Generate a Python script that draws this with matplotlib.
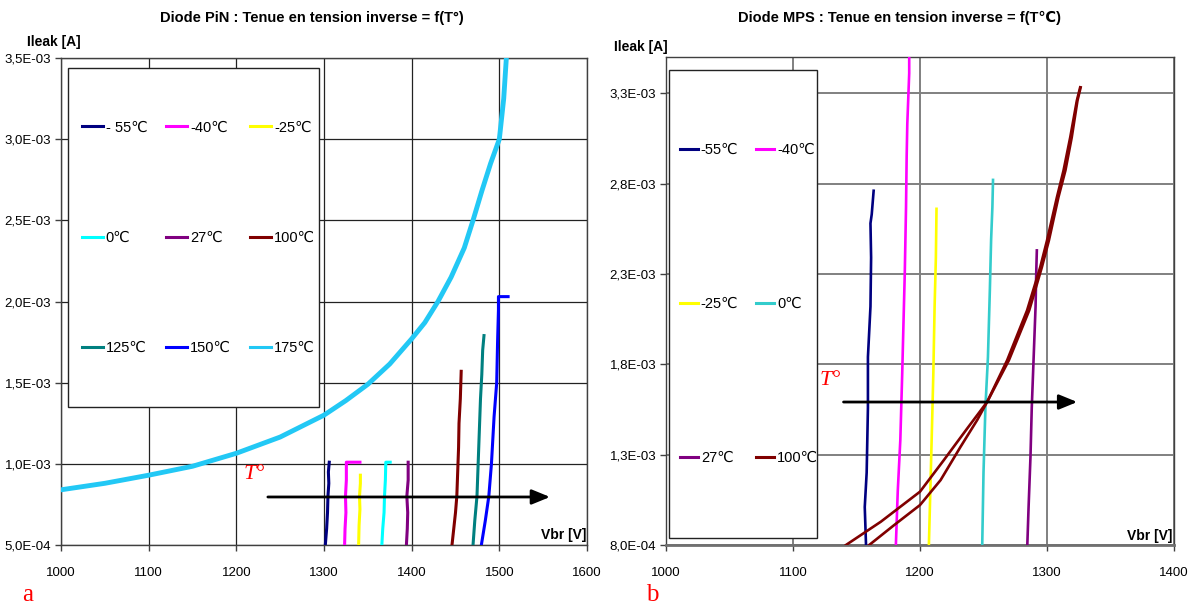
import numpy as np
import matplotlib
matplotlib.use("Agg")
import matplotlib.pyplot as plt
from matplotlib.patches import Rectangle
from matplotlib.ticker import FixedLocator, FuncFormatter

plt.rcParams['font.family'] = ['Liberation Sans Narrow', 'Liberation Sans', 'DejaVu Sans']

# --------------------------------
# data (Ileak in 1E-03 A, Vbr in V)
# --------------------------------

# (a) diode PiN
pin_labels = ['- 55℃', '-40℃', '-25℃', '0℃', '27℃', '100℃', '125℃', '150℃', '175℃']
pin_colors = ['#000080', '#FF00FF', '#FFFF00', '#00FFFF', '#800080',
              '#800000', '#008080', '#0000FF', '#22C8F5']
pin_vbr = [
    [1301.5, 1303, 1304, 1304.5, 1305.5, 1305, 1306],                                  # -55
    [1323.5, 1324, 1325, 1324.5, 1325.5, 1325.5, 1341],                                # -40
    [1339.5, 1340, 1341, 1340.5, 1341.5, 1341.5],                                      # -25
    [1366, 1367, 1368.5, 1369, 1370, 1370.5, 1375.5],                                  # 0
    [1394, 1395, 1395.5, 1394.5, 1396, 1396],                                          # 27
    [1446, 1448, 1450, 1451.5, 1452.5, 1453.5, 1454, 1455.5, 1456.5],                  # 100
    [1470, 1472, 1474.5, 1475.5, 1476.5, 1477.5, 1478.5, 1480, 1481, 1482.5],          # 125
    [1479.5, 1484, 1488, 1491, 1494, 1497, 1498, 1499, 1499, 1510],                    # 150
    [1000, 1050, 1100, 1150, 1200, 1250, 1300, 1325, 1350, 1375, 1400, 1415, 1430,
     1445, 1460, 1470, 1480, 1490, 1500, 1505, 1508],                                  # 175
]
pin_ileak = [
    [0.5, 0.6, 0.7, 0.8, 0.88, 0.95, 1.01],
    [0.5, 0.6, 0.7, 0.8, 0.9, 1.01, 1.01],
    [0.5, 0.62, 0.72, 0.8, 0.88, 0.93],
    [0.5, 0.6, 0.7, 0.8, 0.9, 1.01, 1.01],
    [0.5, 0.6, 0.7, 0.8, 0.9, 1.01],
    [0.5, 0.6, 0.7, 0.8, 0.95, 1.1, 1.25, 1.4, 1.57],
    [0.5, 0.65, 0.8, 0.95, 1.1, 1.25, 1.4, 1.55, 1.7, 1.79],
    [0.5, 0.65, 0.8, 1.0, 1.29, 1.5, 1.75, 1.95, 2.03, 2.03],
    [0.84, 0.88, 0.93, 0.985, 1.065, 1.165, 1.30, 1.39, 1.49, 1.615, 1.77, 1.87, 2.0,
     2.15, 2.33, 2.5, 2.68, 2.85, 3.0, 3.25, 3.5],
]
pin_xticks = [1000, 1100, 1200, 1300, 1400, 1500, 1600]
pin_yticks = [0.5, 1.0, 1.5, 2.0, 2.5, 3.0, 3.5]

# (b) diode MPS
mps_labels = ['-55℃', '-40℃', '-25℃', '0℃', '27℃', '100℃']
mps_colors = ['#000080', '#FF00FF', '#FFFF00', '#33CCCC', '#800080', '#800000']
mps_vbr = [
    [1157.5, 1156.5, 1158, 1159, 1159, 1161, 1161.5, 1161, 1162, 1163.5],
    [1181, 1182.5, 1184.5, 1186, 1187, 1188, 1189, 1189.5, 1190, 1191.5, 1191.5],
    [1207, 1208.5, 1209.5, 1210.5, 1211.5, 1212.5, 1213],
    [1249, 1250, 1251.5, 1253.5, 1255, 1256, 1257, 1257.5],
    [1284.5, 1285.5, 1287, 1288, 1289.5, 1291, 1291.5, 1292],
    [1141.7, 1169.2, 1200, 1218.8, 1237.2, 1252.9, 1268.6, 1284.3, 1294.7, 1300, 1307.8, 1313, 1318.3, 1323.5, 1326.1],
]
mps_ileak = [
    [0.8, 1.01, 1.2, 1.56, 1.84, 2.12, 2.39, 2.58, 2.63, 2.76],
    [0.8, 1.1, 1.38, 1.75, 2.03, 2.3, 2.67, 2.95, 3.13, 3.41, 3.55],
    [0.8, 1.2, 1.47, 1.75, 2.12, 2.39, 2.66],
    [0.8, 1.2, 1.56, 1.84, 2.21, 2.49, 2.67, 2.82],
    [0.8, 1.01, 1.29, 1.56, 1.84, 2.12, 2.3, 2.43],
    [0.8, 0.929, 1.095, 1.27, 1.445, 1.592, 1.822, 2.098, 2.338, 2.485, 2.724, 2.872, 3.056, 3.259, 3.332],
]
# second trace of the 100℃ MPS measurement
mps_vbr_100b = [1160, 1179.6, 1200, 1216.2, 1231.9, 1245, 1252.9, 1270, 1286, 1296, 1301.5, 1309, 1314.5, 1319.5, 1324, 1326.5]
mps_ileak_100b = [0.8, 0.91, 1.021, 1.159, 1.343, 1.491, 1.592, 1.822, 2.098, 2.338, 2.485, 2.724, 2.872, 3.056, 3.259, 3.332]
mps_xticks = [1000, 1100, 1200, 1300, 1400]
mps_yticks = [0.8, 1.3, 1.8, 2.3, 2.8, 3.3]


def sci_comma(v, pos):
    return f"{v:.1E}".replace('.', ',')


def style_axes(ax, xticks, yticks, xlim, ylim, gcolor, glw):
    ax.set_xlim(*xlim)
    ax.set_ylim(*ylim)
    ax.xaxis.set_major_locator(FixedLocator(xticks))
    ax.yaxis.set_major_locator(FixedLocator([t * 1e-3 for t in yticks]))
    ax.yaxis.set_major_formatter(FuncFormatter(sci_comma))
    ax.grid(True, color=gcolor, lw=glw, zorder=0)
    ax.set_axisbelow(True)
    ax.tick_params(axis='both', direction='out', length=4, width=1,
                   color='#404040', labelsize=9.5)
    ax.tick_params(axis='x', pad=12)
    ax.tick_params(axis='y', pad=3)
    for s in ax.spines.values():
        s.set_color('#404040')
        s.set_linewidth(1)


def box_legend(ax, handles, labels, ncol, box, shift, hlen, spacing, colspace):
    # white framed box, legend entries inside it (shifted a little to the right)
    ax.add_patch(Rectangle(box[:2], box[2], box[3], transform=ax.transAxes,
                           facecolor='white', edgecolor='#222222', lw=1, zorder=2))
    anchor = (box[0] + shift, box[1], box[2], box[3])
    leg = ax.legend(handles, labels, ncol=ncol, loc='center', bbox_to_anchor=anchor,
                    borderaxespad=0, borderpad=0.5, fontsize=10.5,
                    handlelength=hlen, handletextpad=0.2, columnspacing=colspace,
                    labelspacing=spacing, frameon=False)
    for h in leg.get_lines():
        h.set_linewidth(2.2)
    return leg


W, H = 1189, 605
fig = plt.figure(figsize=(W / 100, H / 100), dpi=100)

# ---------------- (a) PiN ----------------
ax1 = fig.add_axes([61 / W, 60 / H, 526 / W, 487 / H])
style_axes(ax1, pin_xticks, pin_yticks, (1000, 1600), (0.5e-3, 3.5e-3), '#222222', 0.9)
lines1 = []
for v, i, c, lab in zip(pin_vbr, pin_ileak, pin_colors, pin_labels):
    lw = 3.5 if lab == '175℃' else 2.2
    ln, = ax1.plot(v, np.array(i) * 1e-3, color=c, lw=lw, label=lab, zorder=3)
    lines1.append(ln)
order1 = [0, 3, 6, 1, 4, 7, 2, 5, 8]
box_legend(ax1, [lines1[k] for k in order1], [pin_labels[k] for k in order1], 3,
           (0.0139, 0.283, 0.4766, 0.696), 0.009, 1.45, 6.6, 1.3)

ax1.annotate('', xy=(0.935, 0.0986), xytext=(0.388, 0.0986), xycoords='axes fraction',
             arrowprops=dict(arrowstyle='-|>,head_length=1.1,head_width=0.45', color='black', lw=2))
ax1.text(0.367, 0.144, 'T°', transform=ax1.transAxes, color='red', fontsize=16,
         family='Liberation Serif', style='italic', ha='center', va='center')
ax1.text(0.998, 0.0205, 'Vbr [V]', transform=ax1.transAxes, ha='right', va='center',
         fontsize=10, fontweight='bold')
ax1.text(-0.014, 1.032, 'Ileak [A]', transform=ax1.transAxes, ha='center', va='center',
         fontsize=10, fontweight='bold')

# ---------------- (b) MPS ----------------
ax2 = fig.add_axes([666 / W, 60 / H, 508 / W, 488 / H])
style_axes(ax2, mps_xticks, mps_yticks, (1000, 1400), (0.8e-3, 3.5e-3), '#808080', 1.4)
ax2.spines['bottom'].set_linewidth(2)
ax2.spines['bottom'].set_color('#707070')
lines2 = []
for v, i, c, lab in zip(mps_vbr, mps_ileak, mps_colors, mps_labels):
    ln, = ax2.plot(v, np.array(i) * 1e-3, color=c, lw=1.9, label=lab, zorder=3)
    lines2.append(ln)
ax2.plot(mps_vbr_100b, np.array(mps_ileak_100b) * 1e-3, color=mps_colors[5], lw=1.9, zorder=3)
order2 = [0, 2, 4, 1, 3, 5]
box_legend(ax2, [lines2[k] for k in order2], [mps_labels[k] for k in order2], 2,
           (0.0065, 0.0143, 0.291, 0.959), 0.011, 1.25, 9.6, 1.2)

ax2.annotate('', xy=(0.815, 0.293), xytext=(0.344, 0.293), xycoords='axes fraction',
             arrowprops=dict(arrowstyle='-|>,head_length=1.1,head_width=0.45', color='black', lw=2))
ax2.text(0.323, 0.338, 'T°', transform=ax2.transAxes, color='red', fontsize=16,
         family='Liberation Serif', style='italic', ha='center', va='center')
ax2.text(0.996, 0.018, 'Vbr [V]', transform=ax2.transAxes, ha='right', va='center',
         fontsize=10, fontweight='bold')
ax2.text(-0.049, 1.0195, 'Ileak [A]', transform=ax2.transAxes, ha='center', va='center',
         fontsize=10, fontweight='bold')

# titles and panel letters
fig.text(312 / W, 1 - 18 / H, 'Diode PiN : Tenue en tension inverse = f(T°)',
         ha='center', va='center', fontsize=10.5, fontweight='bold')
fig.text(900 / W, 1 - 18 / H, 'Diode MPS : Tenue en tension inverse = f(T℃)',
         ha='center', va='center', fontsize=10.5, fontweight='bold')
fig.text(28 / W, 1 - 595 / H, 'a', color='red', fontsize=18, family='Liberation Serif',
         ha='center', va='center')
fig.text(652 / W, 1 - 595 / H, 'b', color='red', fontsize=18, family='Liberation Serif',
         ha='center', va='center')

fig.savefig('out.png', dpi=100)
